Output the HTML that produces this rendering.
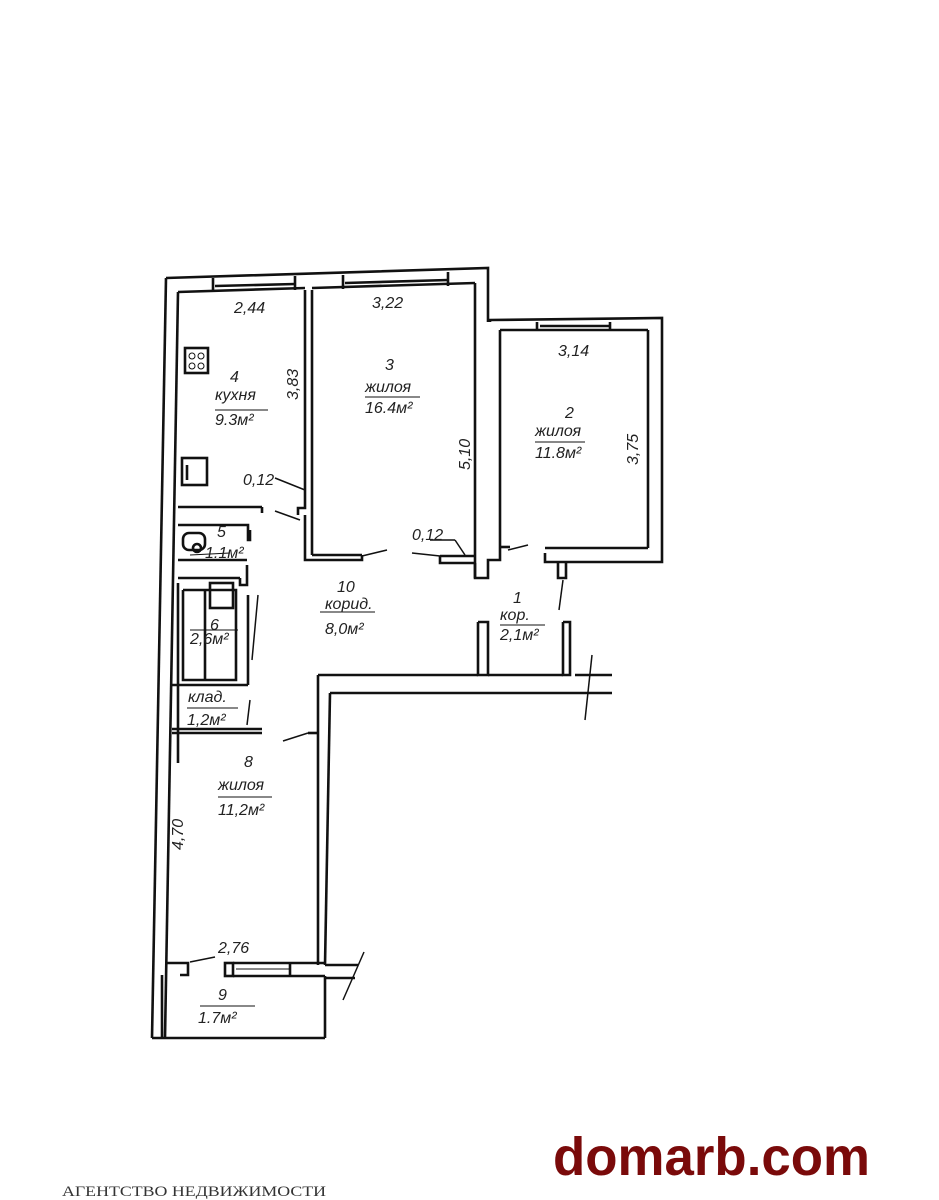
<!DOCTYPE html>
<html><head><meta charset="utf-8"><style>
html,body{margin:0;padding:0;background:#fff;}
svg{display:block;}
.t{font-family:"Liberation Sans",sans-serif;font-style:italic;font-size:16px;fill:#222;}
</style></head><body>
<svg width="939" height="1200" viewBox="0 0 939 1200" xmlns="http://www.w3.org/2000/svg">
<g stroke="#111" stroke-width="2.6" fill="none">
<line x1="166" y1="278" x2="152" y2="1038"/>
<line x1="178" y1="292" x2="165" y2="1038"/>
<polyline points="166,278 488,268 488,322"/>
<line x1="178" y1="292" x2="305" y2="288"/>
<line x1="312" y1="288" x2="475" y2="283"/>
<line x1="213" y1="278" x2="213" y2="292"/>
<line x1="295" y1="276" x2="295" y2="290"/>
<line x1="343" y1="275" x2="343" y2="289"/>
<line x1="448" y1="272" x2="448" y2="286"/>
<line x1="215" y1="286" x2="295" y2="284"/>
<line x1="345" y1="283" x2="448" y2="280"/>
<line x1="475" y1="283" x2="475" y2="578"/>
<line x1="178" y1="507" x2="262" y2="507"/>
<line x1="262" y1="507" x2="262" y2="513"/>
<line x1="305" y1="290" x2="305" y2="505"/>
<line x1="312" y1="290" x2="312" y2="555"/>
<polyline points="305,505 305,508 298,508 298,515"/>
<line x1="300" y1="520" x2="275" y2="511" stroke-width="1.5"/>
<polyline points="305,515 305,560 362,560 362,555"/>
<line x1="312" y1="555" x2="362" y2="555"/>
<line x1="362" y1="556" x2="387" y2="550" stroke-width="1.5"/>
<line x1="412" y1="553" x2="440" y2="556" stroke-width="1.5"/>
<polyline points="440,556 440,563 475,563"/>
<line x1="440" y1="556" x2="475" y2="556"/>
<polyline points="475,563 475,578 488,578 488,560 500,560 500,547"/>
<polyline points="490,322 490,320 662,318 662,562 545,562 545,553"/>
<line x1="500" y1="330" x2="648" y2="330"/>
<line x1="648" y1="330" x2="648" y2="548"/>
<line x1="648" y1="548" x2="545" y2="548"/>
<line x1="500" y1="330" x2="500" y2="547"/>
<line x1="500" y1="547" x2="510" y2="547"/>
<line x1="537" y1="322" x2="537" y2="330"/>
<line x1="610" y1="322" x2="610" y2="330"/>
<line x1="540" y1="326" x2="610" y2="326"/>
<line x1="508" y1="550" x2="528" y2="545" stroke-width="1.5"/>
<polyline points="558,562 558,578 566,578 566,562"/>
<line x1="563" y1="580" x2="559" y2="610" stroke-width="1.5"/>
<polyline points="478,622 478,675 488,675 488,622 478,622"/>
<polyline points="563,622 563,675 570,675 570,622 563,622"/>
<line x1="318" y1="675" x2="478" y2="675"/>
<line x1="488" y1="675" x2="563" y2="675"/>
<line x1="575" y1="675" x2="612" y2="675"/>
<line x1="330" y1="693" x2="612" y2="693"/>
<line x1="592" y1="655" x2="585" y2="720" stroke-width="1.5"/>
<line x1="318" y1="675" x2="318" y2="965"/>
<line x1="330" y1="693" x2="325" y2="965"/>
<polyline points="178,525 248,525 248,540 250,540 250,530"/>
<line x1="178" y1="560" x2="247" y2="560"/>
<line x1="178" y1="578" x2="240" y2="578"/>
<polyline points="240,578 240,585 247,585 247,565"/>
<line x1="178" y1="583" x2="178" y2="763"/>
<polyline points="183,590 236,590 236,680 183,680 183,590"/>
<line x1="205" y1="590" x2="205" y2="680"/>
<line x1="248" y1="595" x2="248" y2="685"/>
<line x1="258" y1="595" x2="252" y2="660" stroke-width="1.5"/>
<line x1="170" y1="685" x2="248" y2="685"/>
<line x1="172" y1="733" x2="262" y2="733"/>
<line x1="172" y1="729" x2="262" y2="729"/>
<line x1="250" y1="700" x2="247" y2="725" stroke-width="1.5"/>
<line x1="283" y1="741" x2="308" y2="733" stroke-width="1.5"/>
<polyline points="308,733 318,733"/>
<rect x="183" y="533" width="22" height="17" rx="6"/>
<circle cx="197" cy="548" r="4"/>
<rect x="210" y="583" width="23" height="25"/>
<rect x="185" y="348" width="23" height="25"/>
<circle cx="192" cy="356" r="3" stroke-width="1"/>
<circle cx="201" cy="356" r="3" stroke-width="1"/>
<circle cx="192" cy="366" r="3" stroke-width="1"/>
<circle cx="201" cy="366" r="3" stroke-width="1"/>
<rect x="182" y="458" width="25" height="27"/>
<line x1="187" y1="465" x2="187" y2="480"/>
<line x1="275" y1="478" x2="305" y2="490" stroke-width="1.5"/>
<line x1="430" y1="540" x2="455" y2="540" stroke-width="1.5"/>
<line x1="455" y1="540" x2="465" y2="555" stroke-width="1.5"/>
<polyline points="165,963 188,963 188,975 180,975"/>
<line x1="190" y1="962" x2="215" y2="957" stroke-width="1.5"/>
<rect x="225" y="963" width="8" height="13"/>
<line x1="233" y1="963" x2="325" y2="963"/>
<line x1="233" y1="976" x2="325" y2="976"/>
<line x1="290" y1="963" x2="290" y2="976"/>
<line x1="236" y1="969" x2="290" y2="969" stroke-width="1"/>
<line x1="325" y1="965" x2="358" y2="965"/>
<line x1="325" y1="978" x2="355" y2="978"/>
<line x1="364" y1="952" x2="343" y2="1000" stroke-width="1.5"/>
<line x1="162" y1="975" x2="162" y2="1038"/>
<line x1="325" y1="976" x2="325" y2="1038"/>
<line x1="152" y1="1038" x2="325" y2="1038"/>
<line x1="215" y1="410" x2="268" y2="410" stroke-width="1"/>
<line x1="365" y1="397" x2="420" y2="397" stroke-width="1"/>
<line x1="535" y1="442" x2="585" y2="442" stroke-width="1"/>
<line x1="320" y1="612" x2="375" y2="612" stroke-width="1"/>
<line x1="500" y1="625" x2="545" y2="625" stroke-width="1"/>
<line x1="190" y1="555" x2="230" y2="553" stroke-width="1"/>
<line x1="190" y1="630" x2="238" y2="630" stroke-width="1"/>
<line x1="187" y1="708" x2="238" y2="708" stroke-width="1"/>
<line x1="218" y1="797" x2="272" y2="797" stroke-width="1"/>
<line x1="200" y1="1006" x2="255" y2="1006" stroke-width="1"/>
</g>
<g class="t">
<text x="234" y="313">2,44</text>
<text x="372" y="308">3,22</text>
<text x="558" y="356">3,14</text>
<text x="230" y="382">4</text>
<text x="215" y="400">кухня</text>
<text x="215" y="425">9.3м²</text>
<text x="385" y="370">3</text>
<text x="365" y="392">жилоя</text>
<text x="365" y="413">16.4м²</text>
<text x="565" y="418">2</text>
<text x="535" y="436">жилоя</text>
<text x="535" y="458">11.8м²</text>
<text x="243" y="485">0,12</text>
<text x="412" y="540">0,12</text>
<text x="217" y="537">5</text>
<text x="205" y="558">1.1м²</text>
<text x="337" y="592">10</text>
<text x="325" y="609">корид.</text>
<text x="325" y="634">8,0м²</text>
<text x="513" y="603">1</text>
<text x="500" y="620">кор.</text>
<text x="500" y="640">2,1м²</text>
<text x="210" y="630">6</text>
<text x="190" y="644">2,6м²</text>
<text x="188" y="702">клад.</text>
<text x="187" y="725">1,2м²</text>
<text x="244" y="767">8</text>
<text x="218" y="790">жилоя</text>
<text x="218" y="815">11,2м²</text>
<text x="218" y="953">2,76</text>
<text x="218" y="1000">9</text>
<text x="198" y="1023">1.7м²</text>
<text transform="translate(298,400) rotate(-90)">3,83</text>
<text transform="translate(470,470) rotate(-90)">5,10</text>
<text transform="translate(638,465) rotate(-90)">3,75</text>
<text transform="translate(183,850) rotate(-90)">4,70</text>
</g>
<text x="553" y="1175" font-family="Liberation Sans,sans-serif" font-weight="bold" font-size="54" fill="#7a0a0a" textLength="317" lengthAdjust="spacingAndGlyphs">domarb.com</text>
<text x="62" y="1196" font-family="Liberation Serif,serif" font-size="15" fill="#333" textLength="264" lengthAdjust="spacingAndGlyphs">АГЕНТСТВО НЕДВИЖИМОСТИ</text>
</svg>
</body></html>
